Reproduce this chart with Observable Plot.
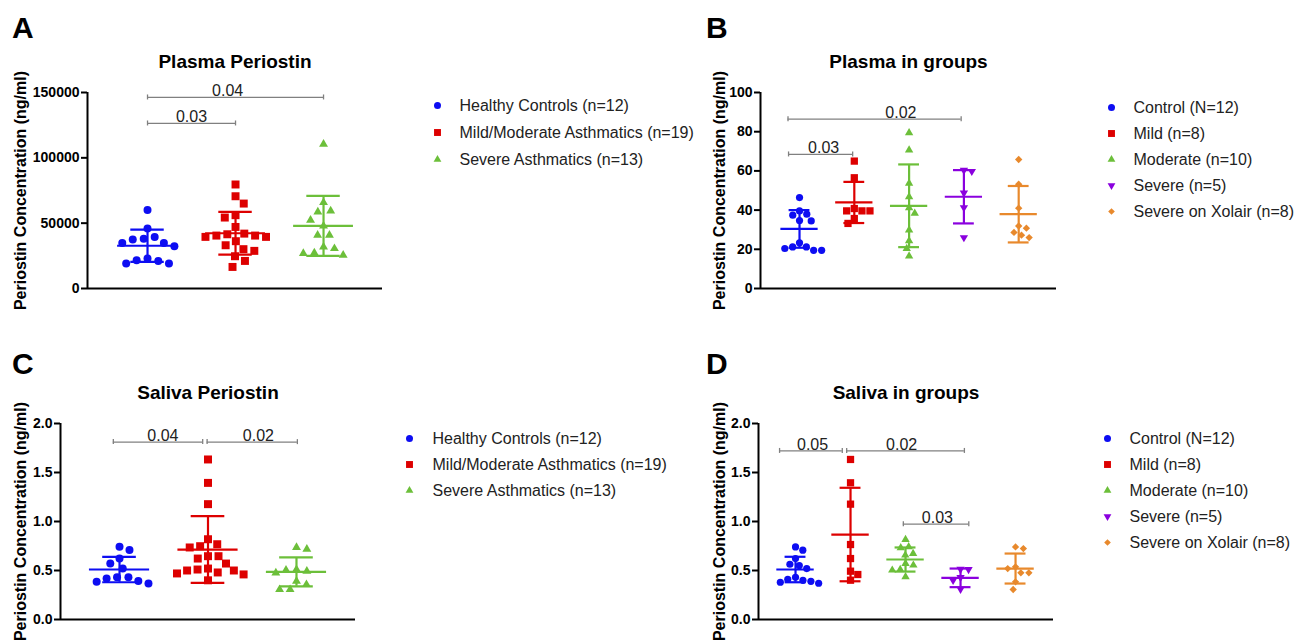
<!DOCTYPE html>
<html><head><meta charset="utf-8">
<script src="https://cdn.jsdelivr.net/npm/d3@7"></script>
<script src="https://cdn.jsdelivr.net/npm/@observablehq/plot@0.6"></script>
<style>
html,body{margin:0;padding:0;background:#fff;width:1296px;height:642px;overflow:hidden;font-family:"Liberation Sans",Arial,Helvetica,sans-serif;}
#root{position:relative;width:1296px;height:642px;}
.abs{position:absolute;}
.abs svg{max-width:none !important;}
.letter{font-weight:bold;font-size:30px;line-height:1;color:#000;z-index:5;}
</style></head><body>
<div id="root"></div>
<script>
// ---------- DATA ----------
const groups3 = ["Healthy Controls (n=12)", "Mild/Moderate Asthmatics (n=19)", "Severe Asthmatics (n=13)"];
const groups5 = ["Control (N=12)", "Mild (n=8)", "Moderate (n=10)", "Severe (n=5)", "Severe on Xolair (n=8)"];

// Panel A: Plasma Periostin
const plasmaHealthy = [60000, 45900, 39500, 37500, 38000, 34900, 32400, 34900, 22900, 21100, 19100, 19100, 21700];
const plasmaMildMod = [79600, 70600, 65000, 56100, 54300, 47100, 42000, 40500, 39500, 39500, 40500, 41500, 36200, 33100, 30100, 28800, 24700, 21100, 16500];
const plasmaSevere = [110400, 65800, 59400, 58600, 52300, 47900, 40800, 40800, 31800, 30600, 27200, 25500, 26800];
const plasmaMeans = [32700, 42300, 47950];
const plasmaSDs = [12300, 16300, 22950];

// Panel B: Plasma in groups
const plasmaControl = [46.4, 39.6, 37.4, 37.9, 34.5, 34.7, 23.3, 21.2, 19.5, 19.5, 21.2, 20.4];
const plasmaMild = [65, 56.5, 40.8, 39.6, 39.6, 39.6, 33.2, 35.7];
const plasmaModerate = [79.4, 70.6, 53.6, 46.8, 41.2, 38.3, 29.8, 24.3, 20.4, 16.5];
const plasmaSev = [60.4, 59.8, 48.8, 41.3, 26];
const plasmaXolair = [65.8, 53.2, 41, 31.9, 30.8, 28.6, 27.2, 26];
const plasmaGroupMeans = [30.4, 43.9, 42.2, 46.8, 37.9];
const plasmaGroupSDs = [9.6, 10.5, 21.1, 13.6, 14.4];

// Panel C: Saliva Periostin
const salivaHealthy = [0.742, 0.708, 0.622, 0.571, 0.52, 0.43, 0.43, 0.418, 0.394, 0.384, 0.367];
const salivaMildMod = [1.633, 1.394, 1.177, 0.819, 0.768, 0.748, 0.735, 0.646, 0.646, 0.622, 0.571, 0.51, 0.5, 0.47, 0.52, 0.46, 0.48, 0.5, 0.40];
const salivaSevere = [0.735, 0.718, 0.51, 0.493, 0.476, 0.503, 0.391, 0.357, 0.306, 0.306];
const salivaMeans = [0.51, 0.714, 0.486];
const salivaSDs = [0.13, 0.34, 0.147];

// Panel D: Saliva in groups
const salivaControl = [0.741, 0.707, 0.622, 0.564, 0.55, 0.52, 0.43, 0.41, 0.40, 0.38, 0.37, 0.39];
const salivaMild = [1.633, 1.395, 1.177, 0.765, 0.622, 0.493, 0.459, 0.401];
const salivaModerate = [0.816, 0.741, 0.731, 0.656, 0.673, 0.554, 0.571, 0.51, 0.503, 0.435];
const salivaSev = [0.513, 0.51, 0.43, 0.40, 0.31];
const salivaXolair = [0.741, 0.724, 0.537, 0.52, 0.476, 0.476, 0.384, 0.306];
const salivaGroupMeans = [0.51, 0.867, 0.612, 0.425, 0.52];
const salivaGroupSDs = [0.13, 0.477, 0.123, 0.095, 0.153];

// Significance annotations (group-index units)
const sigA = [{x1: 1, x2: 3, y: 146200, label: "0.04", lx: 1.91}, {x1: 1, x2: 2, y: 126300, label: "0.03", lx: 1.5}];
const sigB = [{x1: 0.8, x2: 1.97, y: 68.4, label: "0.03", lx: 1.44}, {x1: 0.79, x2: 3.95, y: 86.4, label: "0.02", lx: 2.85}];
const sigC = [{x1: 0.93, x2: 1.94, y: 1.81, label: "0.04", lx: 1.49}, {x1: 1.99, x2: 3.01, y: 1.81, label: "0.02", lx: 2.57}];
const sigD = [{x1: 0.71, x2: 1.85, y: 1.72, label: "0.05", lx: 1.31}, {x1: 1.93, x2: 4.07, y: 1.72, label: "0.02", lx: 2.93}, {x1: 2.96, x2: 4.15, y: 0.973, label: "0.03", lx: 3.58}];

const ticksPlasma = [0, 50000, 100000, 150000];
const ticksPlasmaGroups = [0, 20, 40, 60, 80, 100];
const ticksSaliva = [0, 0.5, 1.0, 1.5, 2.0];

// ---------- STYLE ----------
const FONT = '"Liberation Sans", Arial, Helvetica, sans-serif';
const BLUE = "#0d0df2", RED = "#dd0000", GREEN = "#6cbf3a", PURPLE = "#8a00de", ORANGE = "#e8892c";
const triDown = {draw(ctx, size) {
  const y = -Math.sqrt(size / (Math.sqrt(3) * 3));
  ctx.moveTo(0, -2 * y); ctx.lineTo(-Math.sqrt(3) * y, y); ctx.lineTo(Math.sqrt(3) * y, y); ctx.closePath();
}};
const root = document.getElementById("root");

function swarm(vals, k, d) {
  const order = d3.range(vals.length).sort((a, b) => vals[b] - vals[a]);
  const placed = [], out = new Array(vals.length);
  let side = 1;
  for (const i of order) {
    const y = vals[i] * k;
    const iv = [];
    for (const p of placed) {
      const dy = Math.abs(p.y - y);
      if (dy < d) { const w = Math.sqrt(d * d - dy * dy); iv.push([p.x - w, p.x + w]); }
    }
    const free = c => iv.every(([a, b]) => c <= a + 1e-6 || c >= b - 1e-6);
    const cands = [0];
    iv.forEach(([a, b]) => cands.push(a, b));
    cands.sort((a, b) => {
      const da = Math.abs(a), db = Math.abs(b);
      if (Math.abs(da - db) > 1e-6) return da - db;
      return side * (b - a);
    });
    let x = 0;
    for (const c of cands) if (free(c)) { x = c; break; }
    if (x > 1e-6) side = -1; else if (x < -1e-6) side = 1;
    placed.push({x, y});
    out[i] = x;
  }
  return out;
}

function place(el, left, top) {
  const div = document.createElement("div");
  div.className = "abs";
  div.style.left = left + "px"; div.style.top = top + "px";
  div.appendChild(el);
  root.appendChild(div);
}

function panel(cfg) {
  const {left, top, fl, ft, fr, fb, yMax, ticks, fmt, xDomain, values, means, sds, colors, symbols, sizes, sig, title, ylabelX, swarmD} = cfg;
  const marginTop = ft - top, marginLeft = fl - left, marginRight = 12, marginBottom = 24;
  const width = fr - left + marginRight;
  const height = marginTop + (fb - ft) + marginBottom;
  const kx = (fr - fl) / (xDomain[1] - xDomain[0]);
  const ky = (fb - ft) / yMax;
  const marks = [];
  values.forEach((vals, g) => {
    const offs = swarm(vals, ky, swarmD);
    const pts = vals.map((v, i) => ({x: g + 1 + offs[i] / kx, y: v}));
    marks.push(Plot.dot(pts, {x: "x", y: "y", symbol: symbols[g], fill: colors[g], stroke: "none", r: sizes[g]}));
  });
  means.forEach((m, i) => {
    const g = i + 1, s = sds[i], c = colors[i];
    marks.push(Plot.ruleY([m], {y: d => d, x1: () => g - 0.34, x2: () => g + 0.34, stroke: c, strokeWidth: 2.2}));
    marks.push(Plot.ruleX([g], {x: d => d, y1: () => m - s, y2: () => m + s, stroke: c, strokeWidth: 2.2}));
    marks.push(Plot.ruleY([m - s, m + s], {y: d => d, x1: () => g - 0.19, x2: () => g + 0.19, stroke: c, strokeWidth: 2.2}));
  });
  marks.push(Plot.ruleY([0], {y: d => d, stroke: "black", strokeWidth: 2}));
  marks.push(Plot.ruleX([xDomain[0]], {x: d => d, y1: () => 0, y2: () => yMax, stroke: "black", strokeWidth: 2}));
  marks.push(Plot.ruleY(sig, {y: "y", x1: "x1", x2: "x2", stroke: "#808080", strokeWidth: 1.3}));
  const ends = sig.flatMap(s => [{x: s.x1, y: s.y}, {x: s.x2, y: s.y}]);
  marks.push(Plot.ruleX(ends, {x: "x", y1: d => d.y - 2.5 / ky, y2: d => d.y + 2.5 / ky, stroke: "#808080", strokeWidth: 1.3}));
  marks.push(Plot.text(sig, {x: "lx", y: "y", text: "label", lineAnchor: "bottom", dy: -1, fontSize: 16, fontWeight: "normal", fill: "#222"}));
  marks.push(Plot.text([title], {frameAnchor: "top", dy: -25, text: d => d, textAnchor: "middle", lineAnchor: "bottom", fontSize: 19, fontWeight: "bold", fill: "black"}));
  marks.push(Plot.text(["Periostin Concentration (ng/ml)"], {frameAnchor: "left", dx: ylabelX - fl, rotate: -90, textAnchor: "middle", lineAnchor: "middle", text: d => d, fontSize: 16, fontWeight: "bold", fill: "black"}));
  const svg = Plot.plot({
    width, height, marginTop, marginLeft, marginRight, marginBottom,
    x: {domain: xDomain, axis: null},
    y: {domain: [0, yMax], ticks, tickFormat: fmt, tickSize: 6, tickPadding: 2, label: null},
    style: {fontFamily: FONT, fontSize: "14px", fontWeight: "bold", color: "black", background: "transparent", overflow: "visible", maxWidth: "none"},
    marks
  });
  svg.querySelectorAll('[aria-label="y-axis tick"], [aria-label="y-axis"] line, [aria-label="y-axis"] path').forEach(el => el.setAttribute("stroke-width", 2));
  place(svg, left, top);
}

function legend(cfg) {
  const {left, top, labels, colors, symbols, sizes, mx, tx, y0, y1} = cfg;
  const marks = labels.map((l, i) => Plot.dot([l], {x: () => 0, y: d => d, symbol: symbols[i], fill: colors[i], stroke: "none", r: sizes[i]}));
  marks.push(Plot.text(labels, {x: () => 1, y: d => d, text: d => d, textAnchor: "start", fontSize: 16, fill: "#222"}));
  const svg = Plot.plot({
    width: 300, height: y1 + 16, margin: 0,
    x: {domain: [0, 1], range: [mx, tx], axis: null},
    y: {type: "point", domain: labels, range: [y0, y1], padding: 0, axis: null},
    style: {fontFamily: FONT, background: "transparent", overflow: "visible", maxWidth: "none"},
    marks
  });
  place(svg, left, top);
}

function letter(t, left, top) {
  const d = document.createElement("div");
  d.className = "abs letter"; d.textContent = t;
  d.style.left = left + "px"; d.style.top = top + "px";
  root.appendChild(d);
}

const sym3 = ["circle", "square", "triangle"];
const col3 = [BLUE, RED, GREEN];
const sym5 = ["circle", "square", "triangle", triDown, "diamond2"];
const col5 = [BLUE, RED, GREEN, PURPLE, ORANGE];
const fmtInt = d3.format("d"), fmt1 = d3.format(".1f");

panel({left: 0, top: 12, fl: 87, ft: 92, fr: 382, fb: 288, yMax: 150000, ticks: ticksPlasma, fmt: fmtInt,
  xDomain: [0.318, 3.67], values: [plasmaHealthy, plasmaMildMod, plasmaSevere], means: plasmaMeans, sds: plasmaSDs,
  colors: col3, symbols: sym3, sizes: [4, 4.5, 3.3], sig: sigA, title: "Plasma Periostin", ylabelX: 20, swarmD: 11});
panel({left: 680, top: 12, fl: 760, ft: 92, fr: 1056, fb: 288, yMax: 100, ticks: ticksPlasmaGroups, fmt: fmtInt,
  xDomain: [0.288, 5.69], values: [plasmaControl, plasmaMild, plasmaModerate, plasmaSev, plasmaXolair], means: plasmaGroupMeans, sds: plasmaGroupSDs,
  colors: col5, symbols: sym5, sizes: [3.6, 4.1, 3.1, 3.1, 3.3], sig: sigB, title: "Plasma in groups", ylabelX: 719, swarmD: 8});
panel({left: 0, top: 343, fl: 60, ft: 423, fr: 355, fb: 619, yMax: 2, ticks: ticksSaliva, fmt: fmt1,
  xDomain: [0.333, 3.667], values: [salivaHealthy, salivaMildMod, salivaSevere], means: salivaMeans, sds: salivaSDs,
  colors: col3, symbols: sym3, sizes: [4, 4.5, 3.3], sig: sigC, title: "Saliva Periostin", ylabelX: 20, swarmD: 10.5});
panel({left: 680, top: 343, fl: 758, ft: 423, fr: 1053, fb: 619, yMax: 2, ticks: ticksSaliva, fmt: fmt1,
  xDomain: [0.327, 5.69], values: [salivaControl, salivaMild, salivaModerate, salivaSev, salivaXolair], means: salivaGroupMeans, sds: salivaGroupSDs,
  colors: col5, symbols: sym5, sizes: [3.6, 4.1, 3.1, 3.1, 3.3], sig: sigD, title: "Saliva in groups", ylabelX: 719, swarmD: 8});

legend({left: 420, top: 90, labels: groups3, colors: col3, symbols: sym3, sizes: [3.5, 3.9, 2.9], mx: 17, tx: 39, y0: 15, y1: 69});
legend({left: 1090, top: 90, labels: groups5, colors: col5, symbols: sym5, sizes: [3.5, 3.9, 2.9, 2.9, 3], mx: 21, tx: 43, y0: 16, y1: 122});
legend({left: 390, top: 420, labels: groups3, colors: col3, symbols: sym3, sizes: [3.5, 3.9, 2.9], mx: 19, tx: 42, y0: 17, y1: 70});
legend({left: 1090, top: 420, labels: groups5, colors: col5, symbols: sym5, sizes: [3.5, 3.9, 2.9, 2.9, 3], mx: 17, tx: 39, y0: 17, y1: 123});

letter("A", 12, 13); letter("B", 706, 13); letter("C", 12, 349); letter("D", 706, 349);
</script>
</body></html>
